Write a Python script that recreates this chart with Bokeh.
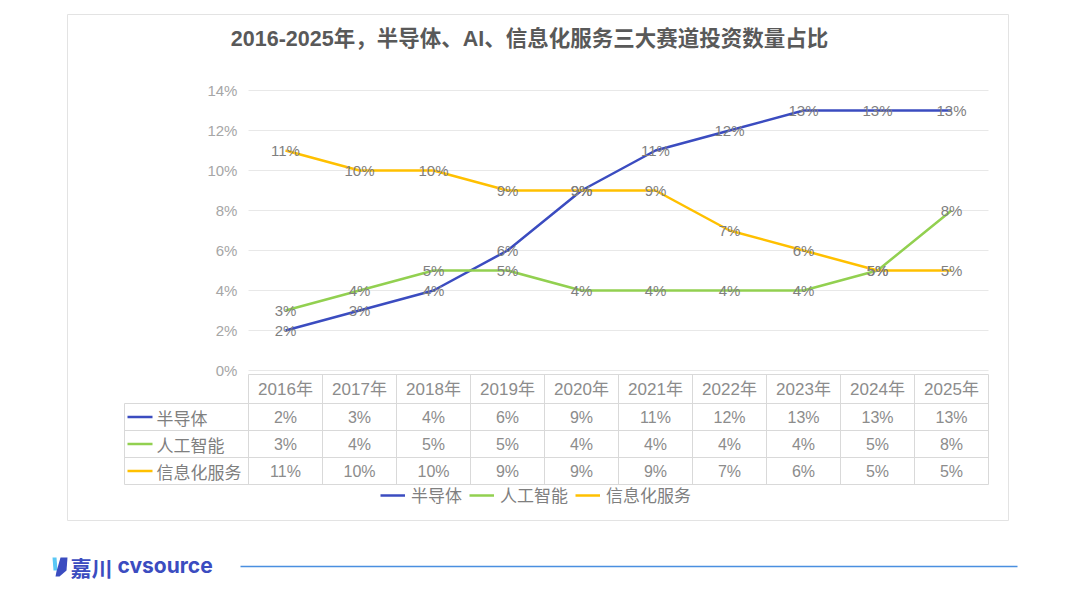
import numpy as np
from bokeh.plotting import figure
from bokeh.models import Range1d, Legend, LegendItem
from bokeh.core.properties import value
from bokeh.embed import file_html
from bokeh.resources import INLINE

# data
years = ["2016年", "2017年", "2018年", "2019年", "2020年",
         "2021年", "2022年", "2023年", "2024年", "2025年"]
semi = [2, 3, 4, 6, 9, 11, 12, 13, 13, 13]
ai = [3, 4, 5, 5, 4, 4, 4, 4, 5, 8]
info = [11, 10, 10, 9, 9, 9, 7, 6, 5, 5]
names = ["半导体", "人工智能", "信息化服务"]
y_ticks = [0, 2, 4, 6, 8, 10, 12, 14]
title = "2016-2025年，半导体、AI、信息化服务三大赛道投资数量占比"

colors = ["#3b4cc0", "#92d050", "#ffc000"]
NUM_FONT = value("Liberation Sans, Noto Sans CJK SC")
CJK_FONT = value("Noto Sans CJK SC")
GRAY = "#7f7f7f"
LINE_GRAY = "#d9d9d9"

# page pixel -> data helpers (x: one category = 74px, y: 1% = 20px)
CW, UNIT = 74.0, 20.0
def dx(px):
    return (px - 248) / CW
def dy(py):
    return (370 - py) / UNIT

W, H = 1064, 592
p = figure(width=W, height=H, x_range=Range1d(dx(0), dx(W)),
           y_range=Range1d(dy(H), dy(0)), x_axis_type=None, y_axis_type=None,
           min_border=0, toolbar_location=None, output_backend="svg")
p.outline_line_color = None

n = len(years)
xs = np.arange(n) + 0.5

# outer chart box
p.quad(left=dx(67), right=dx(1008), bottom=dy(520), top=dy(14),
       fill_color=None, line_color="#e3e3e3", line_width=1)

# title
p.text(x=[dx(529)], y=[dy(38)], text=[title], text_align="center",
       text_baseline="middle", text_font=NUM_FONT, text_font_size="21.5px",
       text_font_style="bold", text_color="#595959")

# grid + y tick labels
p.segment(x0=[0] * len(y_ticks), x1=[n] * len(y_ticks), y0=y_ticks, y1=y_ticks,
          line_color="#e8e8e8", line_width=1)
p.text(x=[-0.15] * len(y_ticks), y=y_ticks, text=[f"{t}%" for t in y_ticks],
       text_align="right", text_baseline="middle", text_font=NUM_FONT,
       text_font_size="15px", text_color="#a6a6a6")

# series
series = [semi, ai, info]
items = []
for name, vals, c in zip(names, series, colors):
    r = p.line(xs, vals, line_color=c, line_width=2.5)
    items.append(LegendItem(label=name, renderers=[r]))
for vals in series:
    p.text(x=xs, y=vals, text=[f"{v}%" for v in vals], text_align="center",
           text_baseline="middle", text_font=NUM_FONT, text_font_size="15px",
           text_color=GRAY)

# data table
head_top, head_bot = -0.2, -1.65
row_h = 1.35
row_edges = [head_bot - i * row_h for i in range(len(names) + 1)]
label_left = dx(124)
# horizontal lines
p.segment(x0=[0], x1=[n], y0=[head_top], y1=[head_top], line_color=LINE_GRAY)
p.segment(x0=[label_left] * len(row_edges), x1=[n] * len(row_edges),
          y0=row_edges, y1=row_edges, line_color=LINE_GRAY)
# vertical lines
p.segment(x0=list(range(n + 1)), x1=list(range(n + 1)), y0=[head_top] * (n + 1),
          y1=[row_edges[-1]] * (n + 1), line_color=LINE_GRAY)
p.segment(x0=[label_left], x1=[label_left], y0=[row_edges[0]], y1=[row_edges[-1]],
          line_color=LINE_GRAY)
# header
p.text(x=xs, y=[(head_top + head_bot) / 2] * n, text=years, text_align="center",
       text_baseline="middle", text_font=NUM_FONT, text_font_size="17px",
       text_color="#8c8c8c")
for i, (name, vals, c) in enumerate(zip(names, series, colors)):
    yc = (row_edges[i] + row_edges[i + 1]) / 2
    p.text(x=xs, y=[yc] * n, text=[f"{v}%" for v in vals], text_align="center",
           text_baseline="middle", text_font=NUM_FONT, text_font_size="16px",
           text_color="#8c8c8c")
    p.segment(x0=[dx(127)], x1=[dx(152)], y0=[yc], y1=[yc], line_color=c, line_width=2.5)
    p.text(x=[dx(156)], y=[yc], text=[name], text_align="left", text_baseline="middle",
           text_font=CJK_FONT, text_font_size="17px", text_color=GRAY)

legend = Legend(items=items, orientation="horizontal", location=(380, 85),
                glyph_width=25, glyph_height=20, label_standoff=6, spacing=7,
                padding=0, border_line_color=None, background_fill_alpha=0,
                label_text_font="Noto Sans CJK SC", label_text_font_size="17px",
                label_text_color=GRAY, label_height=20)
p.add_layout(legend)

# footer logo
p.patches(xs=[[dx(52), dx(56), dx(57), dx(53)],
              [dx(60), dx(67), dx(66), dx(59), dx(55), dx(56)]],
          ys=[[dy(557), dy(557), dy(570), dy(570)],
              [dy(557), dy(557), dy(570), dy(576), dy(576), dy(571)]],
          fill_color=["#5ac8f5", "#3b4cc0"], line_color=None)
p.text(x=[dx(70)], y=[dy(566)], text=["嘉川"], text_baseline="middle",
       text_font=CJK_FONT, text_font_size="21px", text_font_style="bold",
       text_color="#3b4cc0")
p.text(x=[dx(117)], y=[dy(565)], text=["cvsource"], text_baseline="middle",
       text_font=value("Inter"), text_font_size="21px", text_font_style="bold",
       text_color="#3b4cc0")
p.segment(x0=[dx(240)], x1=[dx(1017)], y0=[dy(566)], y1=[dy(566)],
          line_color="#4a8fe0", line_width=1.5)

open("out.html", "w").write(file_html(p, INLINE))
